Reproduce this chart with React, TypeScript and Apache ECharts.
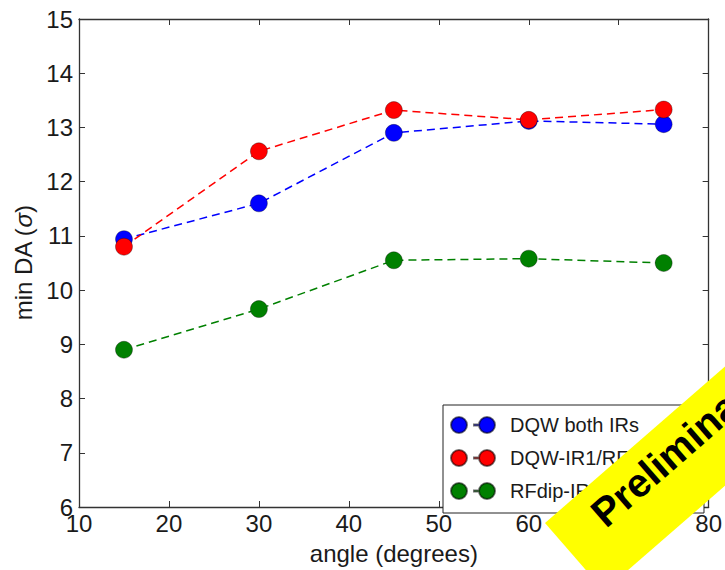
import React, { useEffect, useRef } from "react";
import * as echarts from "echarts";

const angles = [15, 30, 45, 60, 75];
const dqwBoth = [10.94, 11.6, 12.9, 13.12, 13.06];
const dqwIR1 = [10.8, 12.56, 13.32, 13.14, 13.33];
const rfdip = [8.9, 9.65, 10.55, 10.58, 10.5];

const seriesNames = ["DQW both IRs", "DQW-IR1/RFdip-IR5", "RFdip-IR1/DQW-IR5"];
const seriesColors = ["#0000ff", "#ff0000", "#008000"];
const seriesValues = [dqwBoth, dqwIR1, rfdip];

const xTicks = { min: 10, max: 80, interval: 10 };
const yTicks = { min: 6, max: 15, interval: 1 };

const FONT = "'Liberation Sans', Arial, Helvetica, sans-serif";
const AXIS_COLOR = "#333333";
const TEXT_COLOR = "#1a1a1a";

const legendIcon =
  "path://M8,0 A8,8 0 1,1 8,16 A8,8 0 1,1 8,0 Z M23,7.4 L28,7.4 L28,8.6 L23,8.6 Z M36,0 A8,8 0 1,1 36,16 A8,8 0 1,1 36,0 Z";

export default function App() {
  const ref = useRef<HTMLDivElement>(null);

  useEffect(() => {
    if (!ref.current) return;
    const chart = echarts.init(ref.current, undefined, { renderer: "svg" });

    const axisCommon = {
      axisLine: { show: true, onZero: false, lineStyle: { color: AXIS_COLOR, width: 1.3 } },
      axisTick: { show: true, inside: true, length: 6, lineStyle: { color: AXIS_COLOR, width: 1 } },
      splitLine: { show: false },
    };

    const option: any = {
      animation: false,
      backgroundColor: "#ffffff",
      grid: { left: 79, right: 13, top: 19, bottom: 60, containLabel: false },
      xAxis: [
        {
          type: "value",
          ...xTicks,
          position: "bottom",
          ...axisCommon,
          axisLabel: { fontFamily: FONT, fontSize: 24, color: TEXT_COLOR, margin: 4 },
          name: "angle (degrees)",
          nameLocation: "middle",
          nameGap: 34,
          nameTextStyle: { fontFamily: FONT, fontSize: 24, color: TEXT_COLOR },
        },
        {
          type: "value",
          ...xTicks,
          position: "top",
          ...axisCommon,
          axisLabel: { show: false },
        },
      ],
      yAxis: [
        {
          type: "value",
          ...yTicks,
          position: "left",
          ...axisCommon,
          axisLabel: { fontFamily: FONT, fontSize: 24, color: TEXT_COLOR, margin: 6 },
          name: "min DA ({i|σ})",
          nameLocation: "middle",
          nameGap: 42,
          nameRotate: 90,
          nameTextStyle: {
            fontFamily: FONT,
            fontSize: 24,
            color: TEXT_COLOR,
            rich: { i: { fontFamily: FONT, fontSize: 24, fontStyle: "italic", color: TEXT_COLOR } },
          },
        },
        {
          type: "value",
          ...yTicks,
          position: "right",
          ...axisCommon,
          axisLabel: { show: false },
        },
      ],
      legend: {
        orient: "vertical",
        left: 443,
        top: 405,
        padding: [10, 11, 12, 7],
        itemWidth: 44,
        itemHeight: 16,
        itemGap: 13,
        icon: legendIcon,
        borderColor: "#222222",
        borderWidth: 1,
        backgroundColor: "#ffffff",
        textStyle: {
          fontFamily: FONT,
          fontSize: 20,
          color: TEXT_COLOR,
          lineHeight: 16,
          padding: [0, 0, 0, 10],
        },
        data: seriesNames,
      },
      series: seriesNames.map((name, i) => ({
        name,
        type: "line",
        xAxisIndex: 0,
        yAxisIndex: 0,
        data: angles.map((a, j) => [a, seriesValues[i][j]]),
        symbol: "circle",
        symbolSize: 17,
        color: seriesColors[i],
        itemStyle: { color: seriesColors[i], borderColor: "rgba(0,0,0,0.55)", borderWidth: 0.6 },
        lineStyle: { color: seriesColors[i], width: 1.5, type: [8, 5] },
        z: 2 + i,
      })),
      graphic: [
        {
          type: "group",
          x: 545,
          y: 523,
          rotation: (41 * Math.PI) / 180,
          z: 100,
          children: [
            {
              type: "rect",
              shape: { x: 0, y: 0, width: 420, height: 90 },
              style: { fill: "#ffff00" },
              z: 100,
            },
            {
              type: "text",
              x: 42,
              y: 30.5,
              z: 101,
              style: {
                text: "Preliminary",
                fontFamily: FONT,
                fontWeight: "bold",
                fontSize: 40,
                fill: "#000000",
                verticalAlign: "middle",
                align: "left",
              },
            },
          ],
        },
      ],
    };

    chart.setOption(option);
    return () => chart.dispose();
  }, []);

  return (
    <div
      ref={ref}
      style={{ position: "fixed", left: 0, top: 0, width: 725, height: 570, background: "#fff" }}
    />
  );
}
